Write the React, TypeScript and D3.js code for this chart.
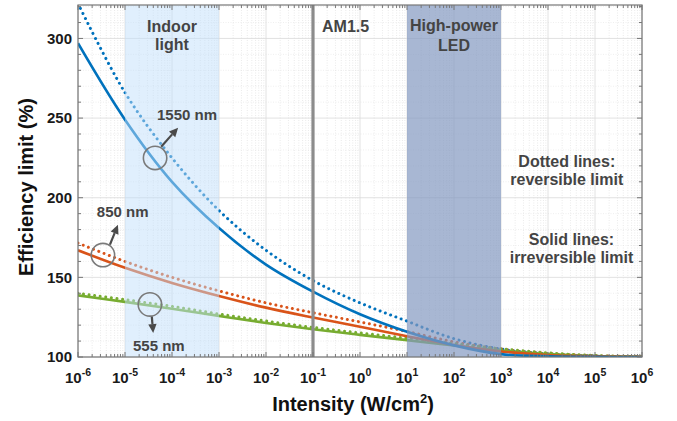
import React from 'react';
import * as d3 from 'd3';

// intensity in W/cm^2, one point per decade (exponent)
const exponents = [-6, -5, -4, -3, -2, -1, 0, 1, 2, 3, 4, 5, 6];

// efficiency limit (%)
const blueIrreversible = [297, 249, 210, 181, 158, 141, 126.8, 115.8, 107.3, 101.8, 100.4, 100.05, 100];
const blueReversible = [322, 266, 225, 192, 167, 148, 134, 122.5, 111.5, 105, 101.9, 100.5, 100.1];
const orangeIrreversible = [167, 156, 146.5, 138.3, 131, 124.8, 119, 113, 107.5, 103.5, 101.3, 100.4, 100.1];
const orangeReversible = [171.5, 160, 150, 141.5, 134, 127.8, 122, 116, 109.5, 105, 102.3, 100.8, 100.2];
const greenIrreversible = [138.7, 134.6, 130.3, 125.8, 121.4, 117.4, 113.9, 110.6, 107.2, 104.1, 101.8, 100.6, 100.1];
const greenReversible = [140, 136, 131.8, 127, 122.6, 118.6, 115.1, 111.8, 108.4, 105.2, 102.6, 100.9, 100.2];

const yTicks = [100, 150, 200, 250, 300];

const indoorBand = [1e-5, 1e-3];
const ledBand = [1e1, 1e3];
const am15 = 1e-1;

const W = 677;
const H = 421;
const margin = { top: 5, right: 35, bottom: 64, left: 78 };

const x = d3.scaleLog().domain([1e-6, 1e6]).range([margin.left, W - margin.right]);
const y = d3.scaleLinear().domain([100, 321]).range([H - margin.bottom, margin.top]);

const FONT = 'Liberation Sans, Arial, Helvetica, sans-serif';
const BLUE = '#0072BD';
const ORANGE = '#D95319';
const GREEN = '#77AC30';

const series = [
  { values: blueReversible, color: BLUE, dotted: true },
  { values: orangeReversible, color: ORANGE, dotted: true },
  { values: greenReversible, color: GREEN, dotted: true },
  { values: greenIrreversible, color: GREEN, dotted: false },
  { values: orangeIrreversible, color: ORANGE, dotted: false },
  { values: blueIrreversible, color: BLUE, dotted: false },
];

// wavelength markers, in data units: circle centre, arrow start/end, label anchor
const markers = [
  { label: '1550 nm', cx: -4.36, cy: 225, ax: -4.23, ay: 232, bx: -3.87, by: 244, lx: -4.32, ly: 249 },
  { label: '850 nm', cx: -5.47, cy: 164, ax: -5.32, ay: 170.5, bx: -5.15, by: 183, lx: -5.6, ly: 188 },
  { label: '555 nm', cx: -4.47, cy: 133, ax: -4.43, ay: 125.3, bx: -4.4, by: 115, lx: -4.83, ly: 104 },
];

const line = d3
  .line<number>()
  .x((_, i) => x(10 ** exponents[i]))
  .y((d) => y(d))
  .curve(d3.curveCatmullRom.alpha(0.5));

const Arrow: React.FC<{ x1: number; y1: number; x2: number; y2: number }> = ({ x1, y1, x2, y2 }) => {
  const a = Math.atan2(y2 - y1, x2 - x1);
  const len = 9;
  const half = 4.2;
  const bx = x2 - len * Math.cos(a);
  const by = y2 - len * Math.sin(a);
  const p1 = [bx + half * Math.sin(a), by - half * Math.cos(a)];
  const p2 = [bx - half * Math.sin(a), by + half * Math.cos(a)];
  return (
    <g>
      <line x1={x1} y1={y1} x2={bx} y2={by} stroke="#4a4a4a" strokeWidth={2.2} />
      <polygon points={`${x2},${y2} ${p1[0]},${p1[1]} ${p2[0]},${p2[1]}`} fill="#4a4a4a" />
    </g>
  );
};

const App: React.FC = () => {
  const x0 = margin.left;
  const x1 = W - margin.right;
  const y0 = margin.top;
  const y1 = H - margin.bottom;

  const majorX = exponents.map((e) => 10 ** e);
  const minorX: number[] = [];
  exponents.slice(0, -1).forEach((e) => {
    for (let k = 2; k <= 9; k++) minorX.push(k * 10 ** e);
  });
  const minorY = d3.range(100, 321, 10).filter((v) => v % 50 !== 0);

  const textStyle = { fontFamily: FONT, fontWeight: 700 } as const;

  return (
    <svg
      width={W}
      height={H}
      style={{ position: 'absolute', left: 0, top: 0, background: '#fff' }}
    >
      <defs>
        <clipPath id="plot">
          <rect x={x0} y={y0} width={x1 - x0} height={y1 - y0} />
        </clipPath>
      </defs>

      {/* grid */}
      <g>
        {minorX.map((v) => (
          <line key={'gx' + v} x1={x(v)} x2={x(v)} y1={y0} y2={y1} stroke="#dcdcdc" strokeWidth={0.6} strokeDasharray="1 1.5" />
        ))}
        {minorY.map((v) => (
          <line key={'gy' + v} x1={x0} x2={x1} y1={y(v)} y2={y(v)} stroke="#e4e4e4" strokeWidth={0.6} strokeDasharray="1 1.5" />
        ))}
        {majorX.map((v) => (
          <line key={'GX' + v} x1={x(v)} x2={x(v)} y1={y0} y2={y1} stroke="#dadada" strokeWidth={0.8} />
        ))}
        {yTicks.map((v) => (
          <line key={'GY' + v} x1={x0} x2={x1} y1={y(v)} y2={y(v)} stroke="#dadada" strokeWidth={0.8} />
        ))}
      </g>

      {/* curves */}
      <g clipPath="url(#plot)" fill="none">
        {series.map((s, i) => (
          <path
            key={i}
            d={line(s.values) || ''}
            stroke={s.color}
            strokeWidth={s.dotted ? 3 : 2.6}
            strokeDasharray={s.dotted ? '0.01 5.6' : undefined}
            strokeLinecap={s.dotted ? 'round' : 'butt'}
          />
        ))}
      </g>

      {/* shaded intensity regions */}
      <rect
        x={x(indoorBand[0])}
        y={y0}
        width={x(indoorBand[1]) - x(indoorBand[0])}
        height={y1 - y0}
        fill="rgb(192,222,251)"
        fillOpacity={0.49}
      />
      <rect
        x={x(ledBand[0])}
        y={y0}
        width={x(ledBand[1]) - x(ledBand[0])}
        height={y1 - y0}
        fill="rgb(131,152,192)"
        fillOpacity={0.7}
      />
      <line x1={x(am15)} x2={x(am15)} y1={y0} y2={y1} stroke="#8c8c8c" strokeWidth={3.2} />

      {/* axes box and ticks */}
      <g stroke="#777" strokeWidth={1}>
        <rect x={x0} y={y0} width={x1 - x0} height={y1 - y0} fill="none" strokeWidth={1.2} />
        {majorX.map((v) => (
          <g key={'tx' + v}>
            <line x1={x(v)} x2={x(v)} y1={y1} y2={y1 - 5} />
            <line x1={x(v)} x2={x(v)} y1={y0} y2={y0 + 5} />
          </g>
        ))}
        {minorX.map((v) => (
          <g key={'mx' + v}>
            <line x1={x(v)} x2={x(v)} y1={y1} y2={y1 - 3} />
            <line x1={x(v)} x2={x(v)} y1={y0} y2={y0 + 3} />
          </g>
        ))}
        {yTicks.map((v) => (
          <g key={'ty' + v}>
            <line x1={x0} x2={x0 + 5} y1={y(v)} y2={y(v)} />
            <line x1={x1} x2={x1 - 5} y1={y(v)} y2={y(v)} />
          </g>
        ))}
        {minorY.map((v) => (
          <g key={'my' + v}>
            <line x1={x0} x2={x0 + 3} y1={y(v)} y2={y(v)} />
            <line x1={x1} x2={x1 - 3} y1={y(v)} y2={y(v)} />
          </g>
        ))}
      </g>

      {/* tick labels */}
      <g style={textStyle} fill="#1a1a1a" fontSize={15}>
        {yTicks.map((v) => (
          <text key={'ly' + v} x={x0 - 6} y={y(v)} dy="0.36em" textAnchor="end">
            {v}
          </text>
        ))}
        {exponents.map((e) => (
          <text key={'lx' + e} x={x(10 ** e)} y={383} textAnchor="middle">
            <tspan>10</tspan>
            <tspan dy={-7.5} fontSize={10.5}>
              {String(e)}
            </tspan>
          </text>
        ))}
      </g>

      {/* axis titles */}
      <text
        style={textStyle}
        fontSize={20}
        fill="#111"
        textAnchor="middle"
        transform={`translate(33,${(y0 + y1) / 2 + 6}) rotate(-90)`}
      >
        Efficiency limit (%)
      </text>
      <text style={textStyle} fontSize={20} fill="#111" x={353} y={411} textAnchor="middle">
        Intensity (W/cm
        <tspan dy={-8} fontSize={13}>
          2
        </tspan>
        <tspan dy={8}>)</tspan>
      </text>

      {/* region labels */}
      <g style={textStyle} fontSize={16} fill="#444" textAnchor="middle">
        <text x={x(1e-4)} y={32}>Indoor</text>
        <text x={x(1e-4)} y={50}>light</text>
        <text x={x(am15) + 9} y={32} textAnchor="start">AM1.5</text>
        <text x={x(1e2)} y={31}>High-power</text>
        <text x={x(1e2)} y={51}>LED</text>
        <text x={x(10 ** 4.4)} y={167}>Dotted lines:</text>
        <text x={x(10 ** 4.4)} y={185}>reversible limit</text>
        <text x={x(10 ** 4.5)} y={245}>Solid lines:</text>
        <text x={x(10 ** 4.5)} y={263}>irreversible limit</text>
      </g>

      {/* wavelength markers */}
      {markers.map((m) => (
        <g key={m.label}>
          <circle cx={x(10 ** m.cx)} cy={y(m.cy)} r={11.7} fill="none" stroke="#7a7a7a" strokeWidth={1.6} />
          <Arrow x1={x(10 ** m.ax)} y1={y(m.ay)} x2={x(10 ** m.bx)} y2={y(m.by)} />
          <text x={x(10 ** m.lx)} y={y(m.ly)} style={textStyle} fontSize={15} fill="#444">
            {m.label}
          </text>
        </g>
      ))}
    </svg>
  );
};

export default App;
